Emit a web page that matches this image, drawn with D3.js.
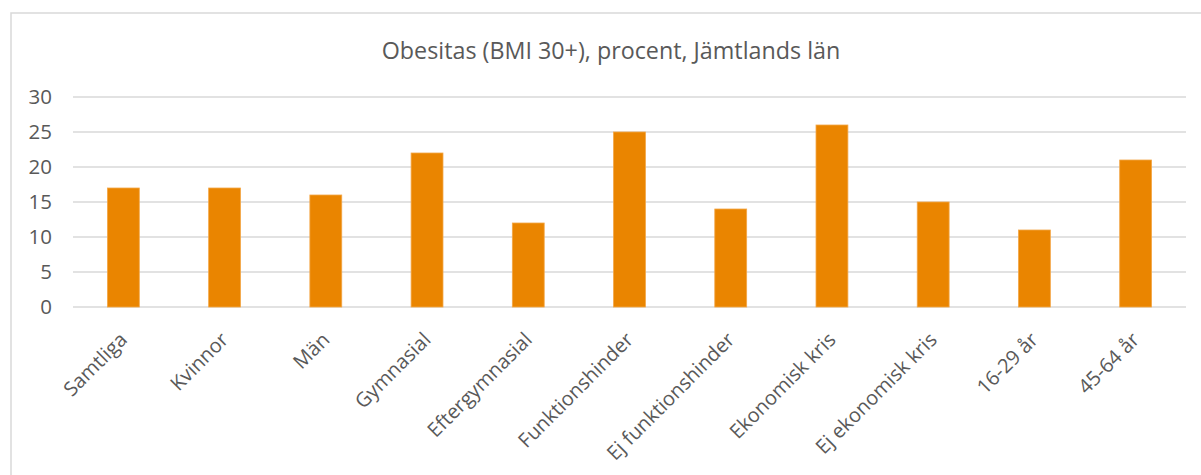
<!DOCTYPE html>
<html>
<head>
<meta charset="utf-8">
<script src="https://cdn.jsdelivr.net/npm/d3@7"></script>
<style>
  body { margin: 0; background: #fff; }
  text { font-family: "Open Sans", Lato, sans-serif; fill: #595959; }
</style>
</head>
<body>
<script>
var categories = ["Samtliga", "Kvinnor", "Män", "Gymnasial", "Eftergymnasial", "Funktionshinder",
                  "Ej funktionshinder", "Ekonomisk kris", "Ej ekonomisk kris", "16-29 år", "45-64 år"];
var values = [17, 17, 16, 22, 12, 25, 14, 26, 15, 11, 21];
var yTicks = [0, 5, 10, 15, 20, 25, 30];
var title = "Obesitas (BMI 30+), procent, Jämtlands län";

var width = 1201;
var height = 475;
var margin = {top: 97, right: 15, bottom: 168, left: 73};

var svg = d3.select("body").append("svg")
    .attr("width", width)
    .attr("height", height);

// chart frame (left + top edge visible)
svg.append("path")
    .attr("d", "M11,475 V13 H1201")
    .attr("fill", "none")
    .attr("stroke", "#d9d9d9")
    .attr("stroke-width", 1.5);

var x = d3.scaleBand()
    .domain(categories)
    .range([margin.left, width - margin.right])
    .paddingInner(0.685)
    .paddingOuter(0.34);

var y = d3.scaleLinear()
    .domain([0, 30])
    .range([height - margin.bottom, margin.top]);

// gridlines
svg.append("g")
  .selectAll("line")
  .data(yTicks)
  .enter().append("line")
    .attr("x1", margin.left)
    .attr("x2", width - margin.right)
    .attr("y1", function(d) { return y(d); })
    .attr("y2", function(d) { return y(d); })
    .attr("stroke", "#d9d9d9")
    .attr("stroke-width", 1.5);

// y labels
var yAxis = svg.append("g")
    .attr("transform", "translate(" + margin.left + ",0)")
    .call(d3.axisLeft(y).tickValues(yTicks).tickSize(0).tickPadding(21));
yAxis.select(".domain").remove();
yAxis.selectAll("text")
    .style("font-size", "20.5px")
    .style("font-family", "'Open Sans', Lato, sans-serif")
    .attr("fill", "#595959");

// bars
svg.selectAll(".bar")
    .data(values)
  .enter().append("rect")
    .attr("class", "bar")
    .attr("x", function(d, i) { return x(categories[i]); })
    .attr("width", x.bandwidth())
    .attr("y", function(d) { return y(d); })
    .attr("height", function(d) { return y(0) - y(d); })
    .attr("fill", "#EA8500")
    .attr("stroke", "#F3A748")
    .attr("stroke-width", 0.8);

// x labels, rotated
var xAxis = svg.append("g")
    .attr("transform", "translate(0," + y(0) + ")")
    .call(d3.axisBottom(x).tickSize(0).tickPadding(0));
xAxis.select(".domain").remove();
xAxis.selectAll("text")
    .style("font-size", "20px")
    .style("font-family", "'Open Sans', Lato, sans-serif")
    .attr("fill", "#595959")
    .attr("text-anchor", "end")
    .attr("dy", null)
    .attr("y", 0)
    .attr("transform", "translate(5,34) rotate(-45)");

// title
svg.append("text")
    .attr("x", 611)
    .attr("y", 59)
    .attr("text-anchor", "middle")
    .style("font-size", "23.3px")
    .text(title);
</script>
</body>
</html>
